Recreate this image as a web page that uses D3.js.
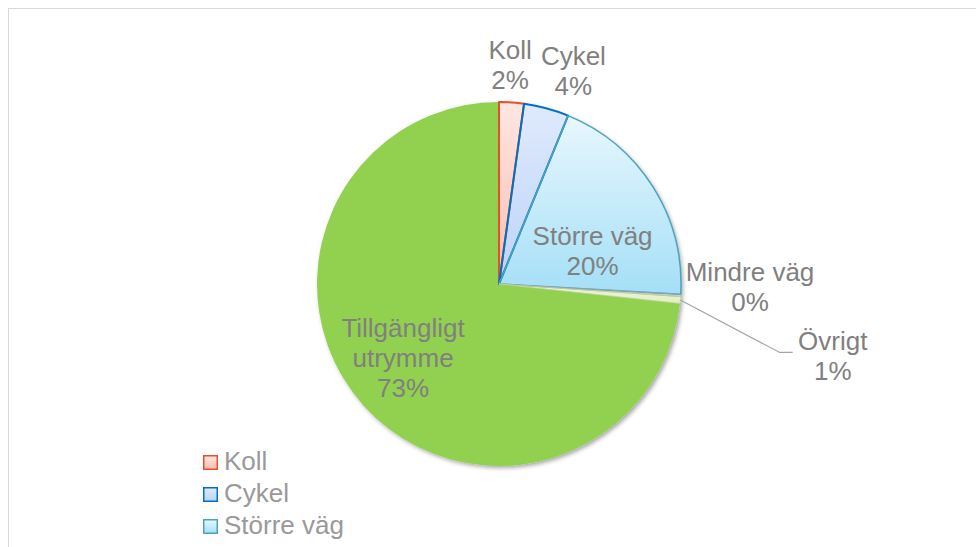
<!DOCTYPE html>
<html>
<head>
<meta charset="utf-8">
<script src="https://cdn.jsdelivr.net/npm/d3@7"></script>
<style>
  body { margin: 0; background: #fff; }
  text { font-family: "Liberation Sans", Arial, sans-serif; }
</style>
</head>
<body>
<script>
const width = 976
const height = 547

// data (labels show rounded values)
const categories = ['Koll', 'Cykel', 'Större väg', 'Mindre väg', 'Övrigt', 'Tillgängligt utrymme']
const shares = [2.2, 4.0, 19.7, 0.2, 0.6, 73.3]
const shareLabels = ['2%', '4%', '20%', '0%', '1%', '73%']
const labelLines = [['Koll'], ['Cykel'], ['Större väg'], ['Mindre väg'], ['Övrigt'], ['Tillgängligt', 'utrymme']]

// slice styles
const fillTop = ['#ffe6e2', '#dfeafd', '#e8f7fd', '#e6e6e6', '#eef5dc', '#92d050']
const fillBottom = ['#fbbcb0', '#bcd3f6', '#a4dff7', '#d0d0d0', '#e2efc4', '#92d050']
const strokes = ['#e0522a', '#0070c0', '#4aa3bf', '#a5a5a5', '#c3d69b', 'none']
const strokeW = [2, 2, 1.5, 0.75, 0.75, 0]

// label placement: radius from centre and small nudge
const labelR = [219, 220, 100, 240, 330, 120]
const labelNudge = [[-4, -0.5], [17, 0], [9, 21], [11.5, -12], [5, 43.5], [-6.7, -5.7]]

const cx = 499, cy = 284, radius = 182
const fontSize = 26, lineH = 30
const legendTop = 455, legendStep = 32

const svg = d3.select('body').append('svg')
    .attr('width', width)
    .attr('height', height)

const defs = svg.append('defs')

// soft shadow under the pie
const shadow = defs.append('filter')
    .attr('id', 'shadow')
    .attr('x', '-10%').attr('y', '-10%')
    .attr('width', '120%').attr('height', '120%')
shadow.append('feDropShadow')
    .attr('dx', 2).attr('dy', 2)
    .attr('stdDeviation', 2)
    .attr('flood-color', '#000')
    .attr('flood-opacity', 0.35)

categories.forEach((c, i) => {
    let g = defs.append('linearGradient')
        .attr('id', 'grad' + i)
        .attr('x1', 0).attr('y1', 0)
        .attr('x2', 0).attr('y2', 1)
    g.append('stop').attr('offset', '0%').attr('stop-color', fillTop[i])
    g.append('stop').attr('offset', '100%').attr('stop-color', fillBottom[i])
})

// chart area border
svg.append('rect')
    .attr('x', 8.5)
    .attr('y', 8.5)
    .attr('width', 1000)
    .attr('height', 600)
    .style('fill', '#fff')
    .style('stroke', '#d9d9d9')
    .style('stroke-width', 1)

const pie = d3.pie().sort(null).value(d => d)
const arcs = pie(shares)
const arc = d3.arc().innerRadius(0).outerRadius(radius)

const pieG = svg.append('g')
    .attr('transform', `translate(${cx},${cy})`)

pieG.append('g')
    .attr('filter', 'url(#shadow)')
    .selectAll('path')
    .data(arcs)
    .join('path')
    .attr('d', arc)
    .style('fill', (d, i) => 'url(#grad' + i + ')')
    .style('stroke', 'none')

// slice outlines on top, so the thin slices stay visible
pieG.append('g')
    .selectAll('path')
    .data(arcs)
    .join('path')
    .attr('d', arc)
    .style('fill', 'none')
    .style('stroke', (d, i) => strokes[i])
    .style('stroke-width', (d, i) => strokeW[i])
    .style('stroke-linejoin', 'round')

// data labels
arcs.forEach((d, i) => {
    let p = d3.arc().innerRadius(labelR[i]).outerRadius(labelR[i]).centroid(d)
    let x = p[0] + labelNudge[i][0]
    let y = p[1] + labelNudge[i][1]
    let lines = labelLines[i].concat([shareLabels[i]])
    let first = y - (lines.length - 1) * lineH / 2 + fontSize * 0.33

    let t = pieG.append('text')
        .attr('text-anchor', 'middle')
        .style('font-size', fontSize + 'px')
        .style('fill', '#808080')
    lines.forEach((s, k) => {
        t.append('tspan')
            .attr('x', x)
            .attr('y', first + k * lineH)
            .text(s)
    })

    // leader line for the small slice that sits far out
    if (categories[i] === 'Övrigt') {
        let edge = d3.arc().innerRadius(radius).outerRadius(radius).centroid(d)
        let w = t.node().getBBox().width
        let endX = x - w / 2 - 5
        let endY = y - 4
        pieG.append('polyline')
            .attr('points', [[edge[0], edge[1]], [endX - 13, endY], [endX, endY]].join(' '))
            .style('fill', 'none')
            .style('stroke', '#a6a6a6')
            .style('stroke-width', 1.25)
    }
})

// legend: only the rows that fit inside the picture are shown, as in the original
const rowsShown = categories.filter((d, i) => legendTop + i * legendStep + 24 < height)

const legend = svg.append('g')
    .attr('transform', `translate(203,${legendTop})`)

const item = legend.selectAll('g')
    .data(rowsShown)
    .join('g')
    .attr('transform', (d, i) => `translate(0,${i * legendStep})`)

item.append('rect')
    .attr('x', 0.75)
    .attr('y', 0.75)
    .attr('width', 13.5)
    .attr('height', 13.5)
    .style('fill', (d, i) => 'url(#grad' + i + ')')
    .style('stroke', (d, i) => strokes[i] === 'none' ? fillTop[i] : strokes[i])
    .style('stroke-width', 1.5)

item.append('text')
    .attr('x', 21)
    .attr('y', 15)
    .style('font-size', fontSize + 'px')
    .style('fill', '#999999')
    .text(d => d)
</script>
</body>
</html>
